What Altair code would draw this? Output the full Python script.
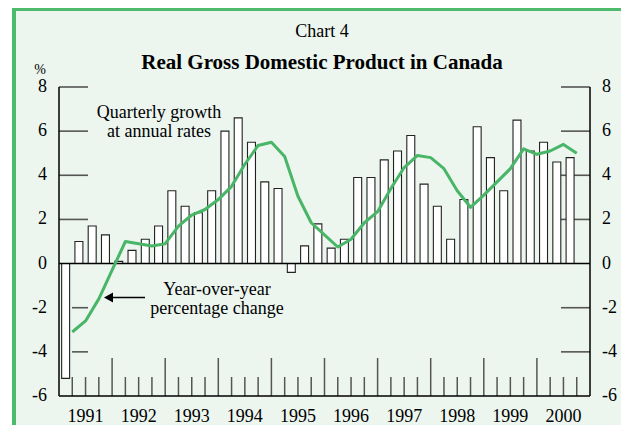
import altair as alt
import pandas as pd

# ---------------- data ----------------
years = ["1991", "1992", "1993", "1994", "1995", "1996", "1997", "1998", "1999", "2000"]

# Quarterly growth at annual rates, 1991Q1 .. 2000Q3
growth = [-5.2, 1.0, 1.7, 1.3,
          0.1, 0.6, 1.1, 1.7,
          3.3, 2.6, 2.3, 3.3,
          6.0, 6.6, 5.5, 3.7,
          3.4, -0.4, 0.8, 1.8,
          0.7, 1.1, 3.9, 3.9,
          4.7, 5.1, 5.8, 3.6,
          2.6, 1.1, 2.9, 6.2,
          4.8, 3.3, 6.5, 5.1,
          5.5, 4.6, 4.8]

# Year-over-year percentage change (plotted at end of each quarter)
yoy = [-3.1, -2.6, -1.6, -0.3,
       1.0, 0.9, 0.8, 0.9,
       1.7, 2.2, 2.45, 2.9,
       3.5, 4.5, 5.35, 5.5,
       4.85, 3.05, 1.85, 1.3,
       0.75, 1.1, 1.85, 2.35,
       3.4, 4.35, 4.9, 4.8,
       4.3, 3.3, 2.55, 3.1,
       3.7, 4.3, 5.2, 4.95,
       5.1, 5.4, 5.0]

y_labels = [-6, -4, -2, 0, 2, 4, 6, 8]
pos_ticks = [8, 6, 4, 2]
neg_ticks = [-2, -4]
right_ticks = [8, 6, 4, 2, -2, -4]

# ---------------- tables ----------------
n = len(growth)
bars_df = pd.DataFrame({"q": list(range(n)), "growth": growth})
bars_df["x0"] = bars_df["q"] + 0.2
bars_df["x1"] = bars_df["q"] + 0.8
bars_df["base"] = 0.0
line_df = pd.DataFrame({"k": list(range(1, n + 1)), "yoy": yoy})
year_df = pd.DataFrame({"year": years, "xc": [i * 4 + 2 for i in range(len(years))]})
minor_df = pd.DataFrame({"k": [k for k in range(1, 40) if k % 4 != 0]})
major_df = pd.DataFrame({"k": [k for k in range(4, 40, 4)]})
hline_df = pd.DataFrame({"y": [0, -6], "xa": [0, 0], "xb": [40, 40]})
vline_df = pd.DataFrame({"x": [0, 40], "ya": [-6, -6], "yb": [8, 8]})
ylab_df = pd.DataFrame({"y": y_labels, "lab": [str(v) for v in y_labels]})

FONT = "Liberation Serif"
BG = "#ECF6EF"
BORDER = "#4DBA6C"
LINE = "#48B567"
TICK = "#555555"
W, H = 531, 309

xs = alt.Scale(domain=[0, 40], nice=False, zero=False)
ys = alt.Scale(domain=[-6, 8], nice=False, zero=False)
one = pd.DataFrame({"a": [0]})

bg = alt.Chart(one).mark_rect(color=BG).encode(
    x=alt.value(-43), x2=alt.value(562), y=alt.value(-79), y2=alt.value(338))
border_top = alt.Chart(one).mark_rect(color=BORDER).encode(
    x=alt.value(-47), x2=alt.value(562), y=alt.value(-79), y2=alt.value(-76))
border_left = alt.Chart(one).mark_rect(color=BORDER).encode(
    x=alt.value(-47), x2=alt.value(-43), y=alt.value(-79), y2=alt.value(338))

lt_pos = alt.Chart(pd.DataFrame({"y": pos_ticks})).mark_rule(color=TICK, strokeWidth=1.6).encode(
    y=alt.Y("y:Q", scale=ys, axis=None), x=alt.value(0), x2=alt.value(29))
lt_neg = alt.Chart(pd.DataFrame({"y": neg_ticks})).mark_rule(color=TICK, strokeWidth=1.6).encode(
    y=alt.Y("y:Q", scale=ys, axis=None), x=alt.value(13), x2=alt.value(29))
rt = alt.Chart(pd.DataFrame({"y": right_ticks})).mark_rule(color=TICK, strokeWidth=1.6).encode(
    y=alt.Y("y:Q", scale=ys, axis=None), x=alt.value(W - 29), x2=alt.value(W))

minor = alt.Chart(minor_df).mark_rule(color=TICK, strokeWidth=1.5).encode(
    x=alt.X("k:Q", scale=xs, axis=None), y=alt.value(H), y2=alt.value(H - 19))
major = alt.Chart(major_df).mark_rule(color=TICK, strokeWidth=1.5).encode(
    x=alt.X("k:Q", scale=xs, axis=None), y=alt.value(H), y2=alt.value(H - 38))

hlines = alt.Chart(hline_df).mark_rule(color="black", strokeWidth=1.5).encode(
    y=alt.Y("y:Q", scale=ys, axis=None),
    x=alt.X("xa:Q", scale=xs, axis=None), x2="xb:Q")
vlines = alt.Chart(vline_df).mark_rule(color="black", strokeWidth=1.5).encode(
    x=alt.X("x:Q", scale=xs, axis=None),
    y=alt.Y("ya:Q", scale=ys, axis=None), y2="yb:Q")

bars = alt.Chart(bars_df).mark_bar(fill="white", stroke="#222222", strokeWidth=1.1).encode(
    x=alt.X("x0:Q", scale=xs, axis=None), x2="x1:Q",
    y=alt.Y("growth:Q", scale=ys, axis=None), y2="base:Q")

line = alt.Chart(line_df).mark_line(color=LINE, strokeWidth=3, strokeJoin="round").encode(
    x=alt.X("k:Q", scale=xs, axis=None),
    y=alt.Y("yoy:Q", scale=ys, axis=None))

ylab_left = alt.Chart(ylab_df).mark_text(font=FONT, fontSize=18, color="black",
                                         align="right", baseline="middle").encode(
    y=alt.Y("y:Q", scale=ys, axis=None), x=alt.value(-12), text="lab:N")
ylab_right = alt.Chart(ylab_df).mark_text(font=FONT, fontSize=18, color="black",
                                          align="left", baseline="middle").encode(
    y=alt.Y("y:Q", scale=ys, axis=None), x=alt.value(W + 12), text="lab:N")

year_text = alt.Chart(year_df).mark_text(font=FONT, fontSize=18, color="black",
                                         baseline="alphabetic", align="center").encode(
    x=alt.X("xc:Q", scale=xs, axis=None), y=alt.value(335), text="year:N")


def label(txt, x, y, size=18, weight="normal"):
    return alt.Chart(one).mark_text(text=txt, font=FONT, fontSize=size, fontWeight=weight,
                                    color="black", align="center", baseline="alphabetic").encode(
        x=alt.value(x), y=alt.value(y))


t_chart = label("Chart 4", 263, -50, 18)
t_title = label("Real Gross Domestic Product in Canada", 263, -18, 21, "bold")
t_pct = label("%", -19, -13, 14)
a1 = label("Quarterly growth", 100, 31)
a2 = label("at annual rates", 100, 50)
b1 = label("Year-over-year", 158, 208)
b2 = label("percentage change", 158, 227)

arrow_line = alt.Chart(one).mark_rule(color="black", strokeWidth=1.4).encode(
    x=alt.value(53), x2=alt.value(86), y=alt.value(210.5))
arrow_head = alt.Chart(one).mark_point(shape="M -1 0 L 1 -1.1 L 1 1.1 Z", filled=True,
                                       color="black", opacity=1, size=81).encode(
    x=alt.value(49.5), y=alt.value(210.5))

chart = alt.layer(
    bg, border_top, border_left,
    lt_pos, lt_neg, rt, minor, major,
    bars, hlines, vlines, line,
    ylab_left, ylab_right, year_text,
    t_chart, t_title, t_pct, a1, a2, b1, b2, arrow_line, arrow_head
).properties(
    width=W, height=H,
    autosize=alt.AutoSizeParams(type="none"),
    padding={"left": 51, "top": 79, "right": 31, "bottom": 29},
    background="white",
).configure_view(stroke=None)

chart.save("out.html", embed_options={"renderer": "svg", "actions": False})
